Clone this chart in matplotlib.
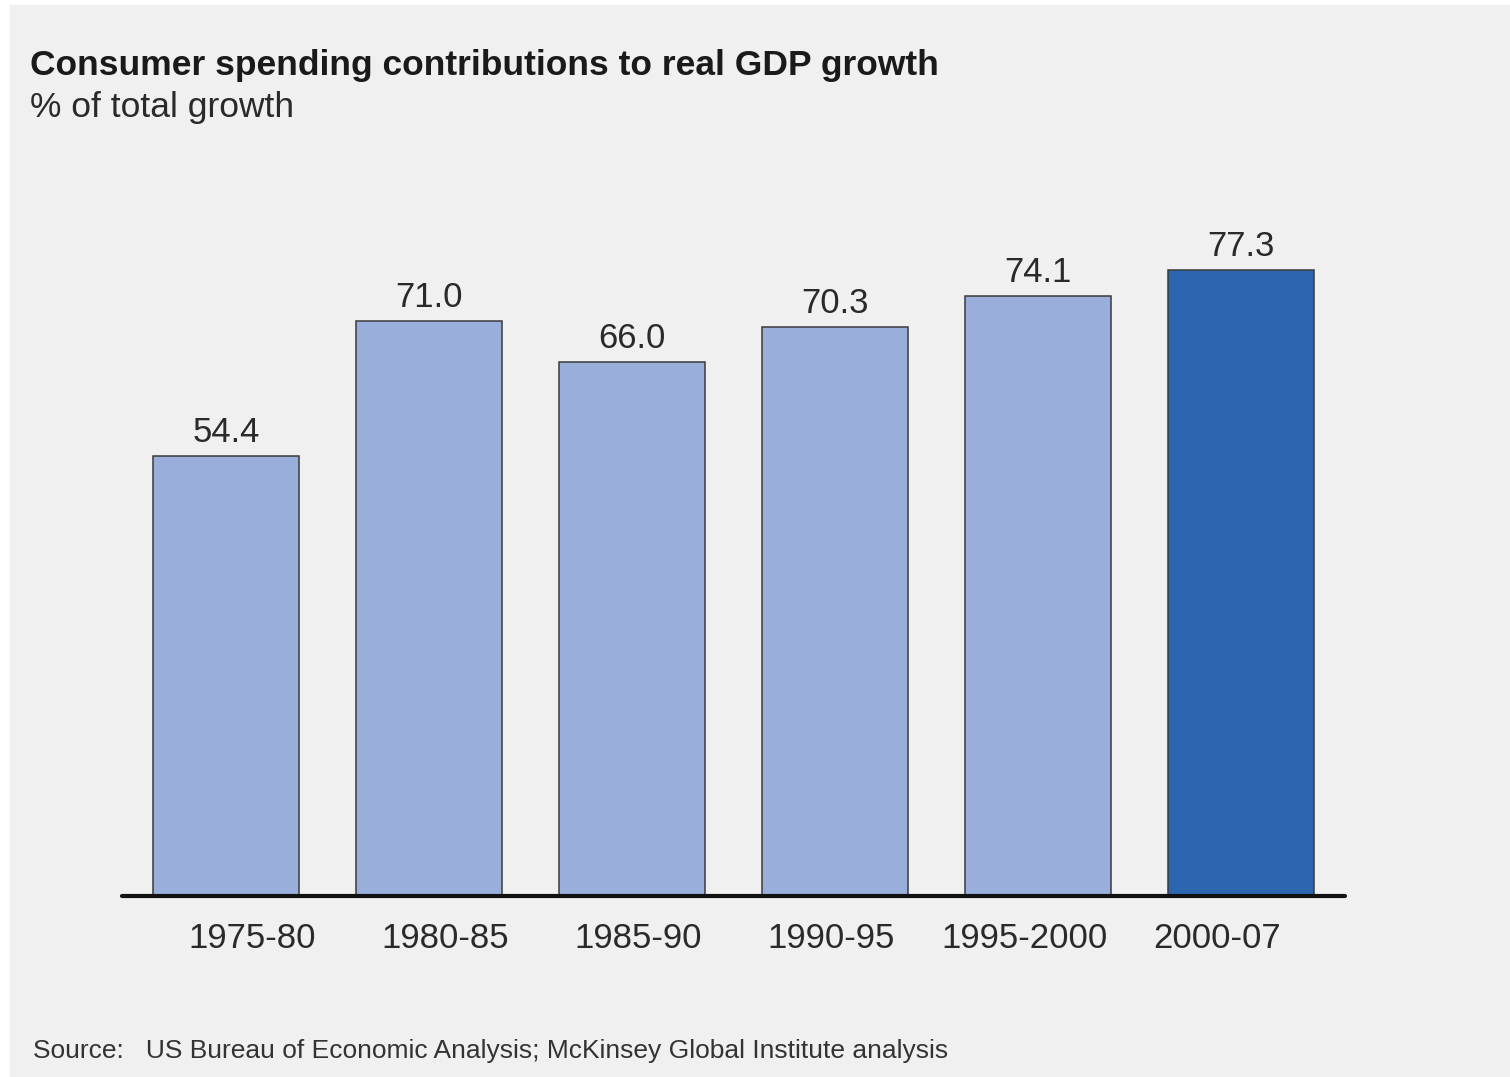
import numpy as np
import matplotlib.pyplot as plt
from matplotlib import font_manager

periods = ["1975-80", "1980-85", "1985-90", "1990-95", "1995-2000", "2000-07"]
share = [54.4, 71.0, 66.0, 70.3, 74.1, 77.3]
highlight = [False, False, False, False, False, True]

title = "Consumer spending contributions to real GDP growth"
subtitle = "% of total growth"
source = "Source:   US Bureau of Economic Analysis; McKinsey Global Institute analysis"

light = "#9aaedc"
dark = "#2c66b0"
bg = "#f0f0f0"

names = {f.name for f in font_manager.fontManager.ttflist}
narrow = "Liberation Sans Narrow" if "Liberation Sans Narrow" in names else "Liberation Sans"
plt.rcParams["font.family"] = ["Liberation Sans", "DejaVu Sans"]

fig = plt.figure(figsize=(15.1, 10.77), dpi=100, facecolor="white")
# grey panel behind everything
fig.patches.append(plt.Rectangle((10 / 1510, 0), 1 - 10 / 1510, 1 - 5 / 1077,
                                 transform=fig.transFigure, color=bg, zorder=-10))

ax = fig.add_axes([122 / 1510, (1077 - 896) / 1077, 1223 / 1510, 696 / 1077])
ax.set_facecolor("none")

x = np.arange(len(share))
colors = [dark if h else light for h in highlight]
bars = ax.bar(x, share, width=0.72, color=colors, edgecolor="#3a3a3a", linewidth=1.1)

for b, v in zip(bars, share):
    ax.annotate(f"{v:.1f}", (b.get_x() + b.get_width() / 2, v), xytext=(0, 5),
                textcoords="offset points", ha="center", va="bottom",
                fontsize=25, color="#2a2a2a")

ax.set_xlim(-0.512, 5.512)
ax.set_ylim(0, 86)
ax.set_yticks([])
# labels in the original sit a little off the bar centres
ax.set_xticks(x * 0.951 + 0.128)
ax.set_xticklabels(periods, fontsize=25, color="#2a2a2a")
ax.tick_params(axis="x", length=0, pad=19)
for s in ["top", "right", "left"]:
    ax.spines[s].set_visible(False)
ax.spines["bottom"].set_linewidth(3)
ax.spines["bottom"].set_color("#111111")
ax.spines["bottom"].set_capstyle("round")

fig.text(30 / 1510, 1 - 65 / 1077, title, fontsize=25.5, fontweight="bold",
         color="#1a1a1a", va="center", ha="left")
fig.text(30 / 1510, 1 - 107 / 1077, subtitle, fontsize=25.5, color="#2a2a2a",
         va="center", ha="left")
fig.text(33 / 1510, 1 - 1051 / 1077, source, fontsize=19, color="#333333",
         va="center", ha="left", family=[narrow, "DejaVu Sans"])

fig.savefig("out.png", dpi=100, facecolor=fig.get_facecolor())
